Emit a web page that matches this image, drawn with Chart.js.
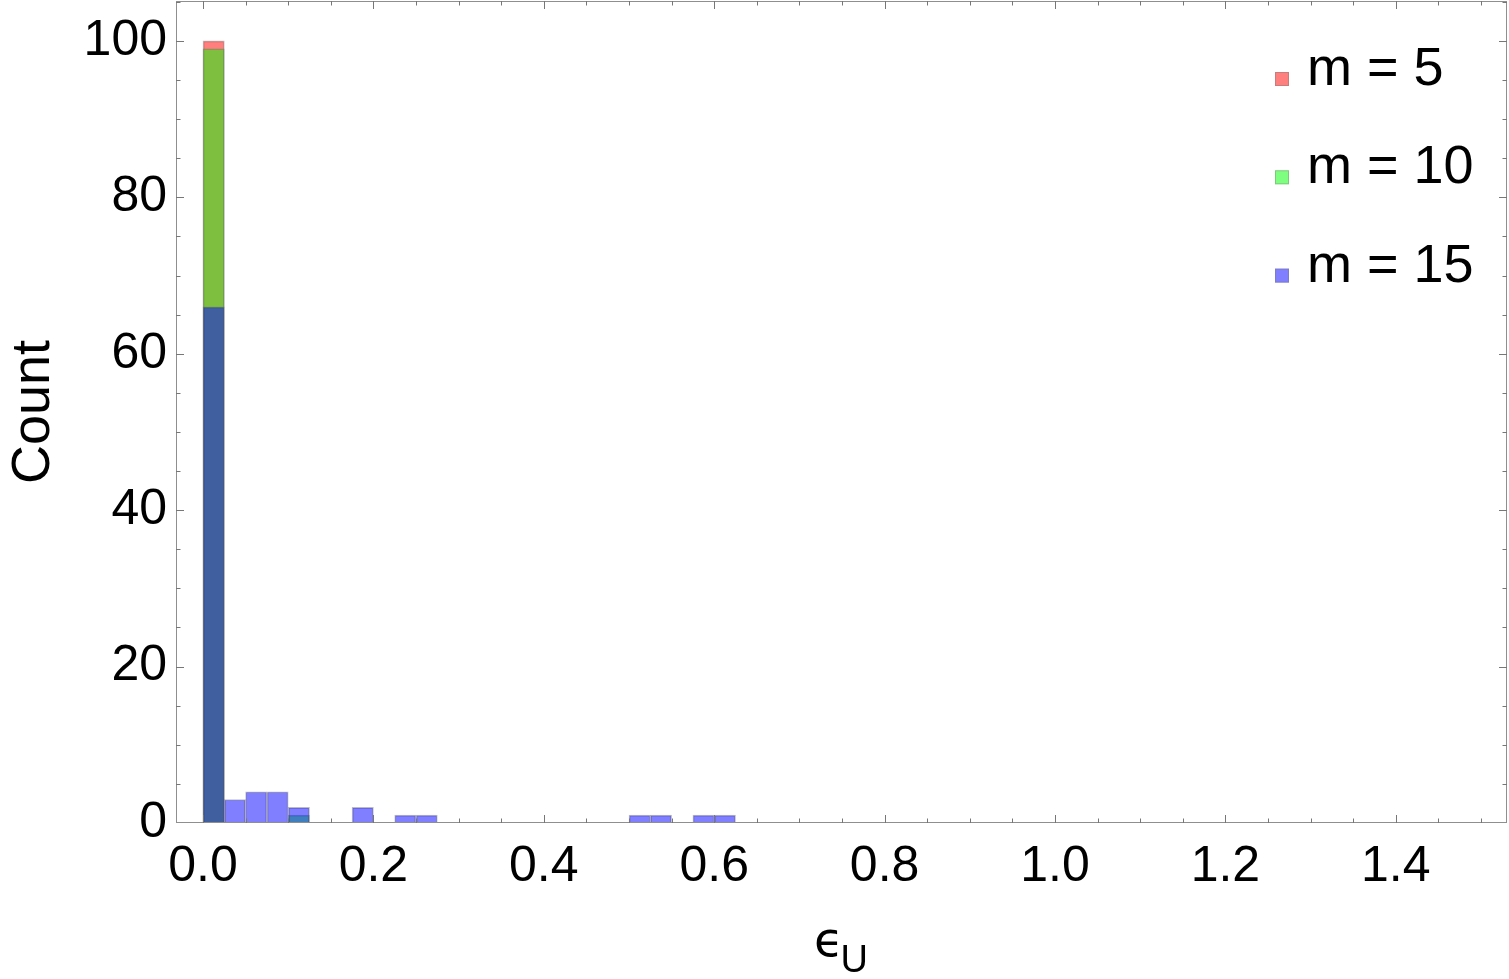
<!DOCTYPE html>
<html lang="en">
  <head>
    <meta charset="UTF-8" />
    <script src="https://cdn.jsdelivr.net/npm/chart.js"></script>
    <style>
      body {
        margin: 0;
        background: #fff;
      }
      #wrap {
        position: relative;
        width: 1509px;
        height: 979px;
      }
    </style>
  </head>
  <body>
    <div id="wrap">
      <canvas id="histChart"></canvas>
    </div>

    <script>
      // histogram bins (left edges) and counts, bin width 0.025
      const binWidth = 0.025;
      const m5Bins = [0];
      const m5Counts = [100];
      const m10Bins = [0, 0.1];
      const m10Counts = [99, 1];
      const m15Bins = [0, 0.025, 0.05, 0.075, 0.1, 0.175, 0.225, 0.25, 0.5, 0.525, 0.575, 0.6];
      const m15Counts = [66, 3, 4, 4, 2, 2, 1, 1, 1, 1, 1, 1];
      const seriesLabels = ["m = 5", "m = 10", "m = 15"];

      const toPoints = (bins, counts) =>
        bins.map((b, i) => ({ x: b + binWidth / 2, y: counts[i] }));

      const FONT = '"Liberation Sans", Arial, Helvetica, sans-serif';

      // frame with inward ticks on all four sides
      const framePlugin = {
        id: "frame",
        afterDatasetsDraw(chart) {
          const { ctx, chartArea: a, scales } = chart;
          const xs = scales.x;
          const ys = scales.y;
          ctx.save();
          ctx.strokeStyle = "#8f8f8f";
          ctx.lineWidth = 1;
          ctx.strokeRect(Math.round(a.left) + 0.5, Math.round(a.top) + 0.5,
            Math.round(a.right - a.left) - 1, Math.round(a.bottom - a.top) - 1);
          ctx.strokeStyle = "#777";
          ctx.beginPath();
          for (let i = 0; i <= 30; i++) {
            const px = Math.round(xs.getPixelForValue(i * 0.05)) + 0.5;
            if (px < a.left || px > a.right) continue;
            const len = i % 4 === 0 ? 8 : 4.5;
            ctx.moveTo(px, a.bottom);
            ctx.lineTo(px, a.bottom - len);
            ctx.moveTo(px, a.top);
            ctx.lineTo(px, a.top + len);
          }
          for (let i = 0; i <= 21; i++) {
            const py = Math.round(ys.getPixelForValue(i * 5)) + 0.5;
            if (py < a.top || py > a.bottom) continue;
            const len = i % 4 === 0 ? 8 : 4.5;
            ctx.moveTo(a.left, py);
            ctx.lineTo(a.left + len, py);
            ctx.moveTo(a.right, py);
            ctx.lineTo(a.right - len, py);
          }
          ctx.stroke();
          ctx.restore();
        },
        afterDraw(chart) {
          const { ctx } = chart;
          ctx.save();
          // legend, top right inside the plot
          ctx.textBaseline = "alphabetic";
          ctx.textAlign = "left";
          chart.data.datasets.forEach((ds, i) => {
            const base = 85 + i * 98.3;
            ctx.fillStyle = "#fff";
            ctx.fillRect(1275, base - 13, 14, 14);
            ctx.fillStyle = ds.backgroundColor;
            ctx.fillRect(1275, base - 13, 14, 14);
            ctx.strokeStyle = "rgba(120,120,120,0.4)";
            ctx.lineWidth = 1;
            ctx.strokeRect(1275.5, base - 12.5, 13, 13);
            ctx.fillStyle = "#000";
            ctx.font = "54px " + FONT;
            ctx.fillText(ds.label, 1307, base);
          });
          // x axis title: epsilon with subscript U
          ctx.font = '48px "DejaVu Sans", sans-serif';
          ctx.fillText("\u03F5", 814, 956);
          const w = ctx.measureText("\u03F5").width;
          ctx.font = "38px " + FONT;
          ctx.fillText("U", 814 + w - 3, 972);
          ctx.restore();
        },
      };

      const ctx = document.getElementById("histChart").getContext("2d");
      const histChart = new Chart(ctx, {
        type: "bar",
        data: {
          datasets: [
            {
              label: seriesLabels[0],
              data: toPoints(m5Bins, m5Counts),
              backgroundColor: "rgba(255, 0, 0, 0.5)",
              order: 3,
            },
            {
              label: seriesLabels[1],
              data: toPoints(m10Bins, m10Counts),
              backgroundColor: "rgba(0, 255, 0, 0.5)",
              order: 2,
            },
            {
              label: seriesLabels[2],
              data: toPoints(m15Bins, m15Counts),
              backgroundColor: "rgba(0, 0, 255, 0.5)",
              order: 1,
            },
          ],
        },
        options: {
          responsive: true,
          maintainAspectRatio: false,
          animation: false,
          layout: { padding: { top: 1, right: 2, left: 0, bottom: 0 } },
          datasets: {
            bar: {
              grouped: false,
              barPercentage: 1,
              categoryPercentage: 1,
              borderWidth: 1,
              borderColor: "rgba(90, 90, 90, 0.4)",
            },
          },
          plugins: {
            legend: { display: false },
            tooltip: { enabled: false },
          },
          scales: {
            x: {
              type: "linear",
              offset: false,
              min: -0.0317,
              max: 1.5305,
              grid: { display: false, drawTicks: false, offset: false },
              border: { display: false },
              ticks: {
                stepSize: 0.2,
                includeBounds: false,
                maxRotation: 0,
                autoSkip: false,
                padding: 14,
                color: "#000",
                font: { family: FONT, size: 50 },
                callback: (v) => Number(v).toFixed(1),
              },
              afterFit(scale) {
                scale.height = 156;
                scale.paddingLeft = 0;
                scale.paddingRight = 0;
              },
            },
            y: {
              min: 0,
              max: 105.1,
              grid: { display: false, drawTicks: false },
              border: { display: false },
              ticks: {
                stepSize: 20,
                includeBounds: false,
                padding: 9,
                color: "#000",
                font: { family: FONT, size: 50 },
              },
              title: {
                display: true,
                text: "Count",
                color: "#000",
                font: { family: FONT, size: 54 },
                padding: { top: 2, bottom: 0 },
              },
              afterFit(scale) {
                scale.width = 176;
                scale.paddingTop = 0;
                scale.paddingBottom = 0;
              },
            },
          },
        },
        plugins: [framePlugin],
      });
    </script>
  </body>
</html>
